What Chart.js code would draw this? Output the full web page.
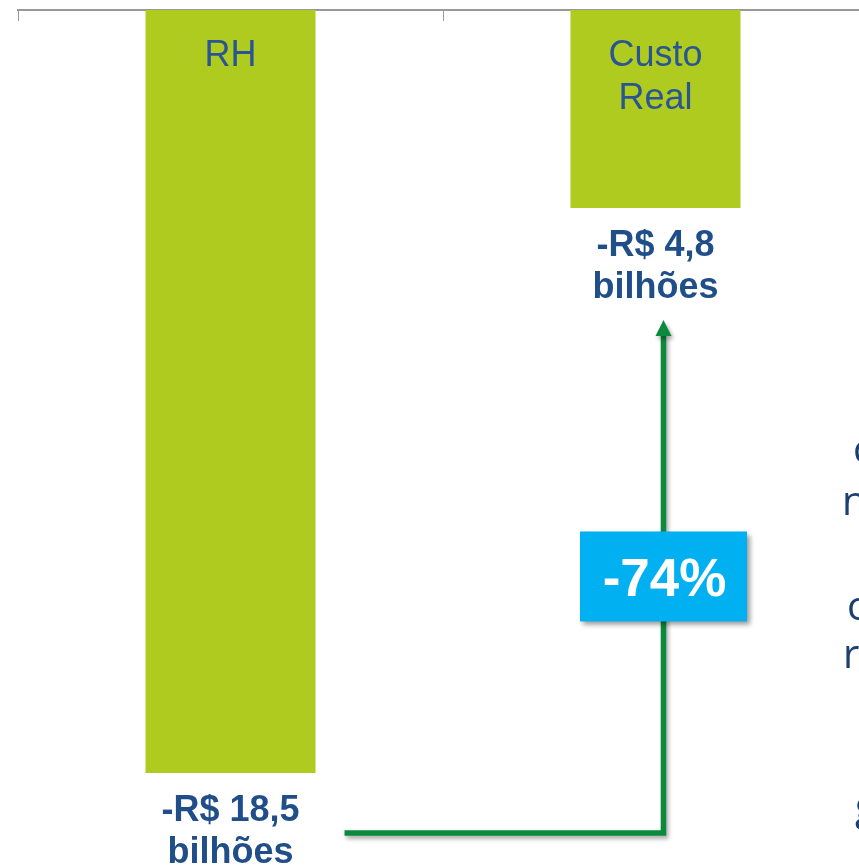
<!DOCTYPE html>
<html>
<head>
<meta charset="utf-8">
<script src="https://cdn.jsdelivr.net/npm/chart.js@4/dist/chart.umd.min.js"></script>
<style>
  html, body { margin: 0; padding: 0; background: #ffffff; }
  body { width: 859px; height: 866px; overflow: hidden; position: relative; }
  #wrap { width: 880px; height: 866px; position: absolute; left: 0; top: 0; }
</style>
</head>
<body>
<div id="wrap"><canvas id="c" width="880" height="866"></canvas></div>
<script>
// ---- data ----
const categories = ['RH', 'Custo Real'];
const barLabelLines = [['RH'], ['Custo', 'Real']];
const values = [-18.5, -4.8];
const valueLabelLines = [['-R$ 18,5', 'bilhões'], ['-R$ 4,8', 'bilhões']];
const changeLabel = '-74%';
const sideLetters = ['c', 'n', 'c', 're', 'g'];

const barColor = '#AFCB1F';
const innerTextColor = '#2A5594';
const labelColor = '#1F4E89';
const arrowColor = '#0B8A3E';
const boxColor = '#00B0F0';

const annotations = {
  id: 'annotations',
  afterDatasetsDraw(chart) {
    const ctx = chart.ctx;
    const meta = chart.getDatasetMeta(0);
    const b0 = meta.data[0], b1 = meta.data[1];
    ctx.save();
    ctx.textAlign = 'center';
    ctx.textBaseline = 'alphabetic';
    // labels inside bars
    ctx.fillStyle = innerTextColor;
    ctx.font = '36px "Liberation Sans", Arial, sans-serif';
    meta.data.forEach((bar, i) => {
      barLabelLines[i].forEach((t, j) => {
        ctx.fillText(t, bar.x, bar.base + 56 + j * 43);
      });
    });
    // value labels below bars
    ctx.fillStyle = labelColor;
    ctx.font = 'bold 36px "Liberation Sans", Arial, sans-serif';
    meta.data.forEach((bar, i) => {
      valueLabelLines[i].forEach((t, j) => {
        ctx.fillText(t, bar.x, bar.y + 48 + j * 42);
      });
    });
    // arrow
    const ax = b1.x + 8;
    const hy = b0.y + 60;
    const hx0 = b0.x + b0.width / 2 + 29;
    const tipY = b1.y + 112;
    ctx.save();
    ctx.shadowColor = 'rgba(0,0,0,0.35)';
    ctx.shadowBlur = 4;
    ctx.shadowOffsetX = 2;
    ctx.shadowOffsetY = 3;
    ctx.strokeStyle = arrowColor;
    ctx.lineWidth = 5.5;
    ctx.lineJoin = 'miter';
    ctx.beginPath();
    ctx.moveTo(hx0, hy);
    ctx.lineTo(ax, hy);
    ctx.lineTo(ax, tipY + 14);
    ctx.stroke();
    ctx.fillStyle = arrowColor;
    ctx.beginPath();
    ctx.moveTo(ax, tipY);
    ctx.lineTo(ax - 8, tipY + 16);
    ctx.lineTo(ax + 8, tipY + 16);
    ctx.closePath();
    ctx.fill();
    ctx.restore();
    // change box
    const midY = (hy + tipY) / 2;
    const bw = 167, bh = 90;
    ctx.save();
    ctx.shadowColor = 'rgba(0,0,0,0.4)';
    ctx.shadowBlur = 5;
    ctx.shadowOffsetX = 3;
    ctx.shadowOffsetY = 4;
    ctx.fillStyle = boxColor;
    ctx.fillRect(ax - bw / 2, midY - bh / 2, bw, bh);
    ctx.restore();
    ctx.fillStyle = '#ffffff';
    ctx.font = 'bold 53px "Liberation Sans", Arial, sans-serif';
    ctx.fillText(changeLabel, ax + 1, midY + 20);
    // clipped text at right edge
    ctx.textAlign = 'left';
    ctx.fillStyle = '#1B3F6E';
    ctx.font = '40px "Open Sans", sans-serif';
    const sideX = [853, 842, 847, 843, 855];
    const sideY = [463, 515, 620, 668, 820];
    sideLetters.forEach((t, i) => ctx.fillText(t, sideX[i], sideY[i]));
    ctx.restore();
  }
};

new Chart(document.getElementById('c'), {
  type: 'bar',
  data: {
    labels: categories,
    datasets: [{
      data: values,
      backgroundColor: barColor,
      borderWidth: 0,
      barPercentage: 0.4,
      categoryPercentage: 1.0
    }]
  },
  options: {
    responsive: false,
    animation: false,
    events: [],
    layout: { padding: { left: 18, right: 12, top: 10, bottom: 0 } },
    plugins: { legend: { display: false }, tooltip: { enabled: false } },
    scales: {
      x: {
        position: { y: 0 },
        offset: true,
        grid: { offset: true, drawOnChartArea: false, drawTicks: true, tickLength: 10, color: '#999999', lineWidth: 1 },
        border: { display: true, color: '#999999', width: 2 },
        ticks: { display: false }
      },
      y: {
        display: false,
        min: -20.755,
        max: 0
      }
    }
  },
  plugins: [annotations]
});
</script>
</body>
</html>
